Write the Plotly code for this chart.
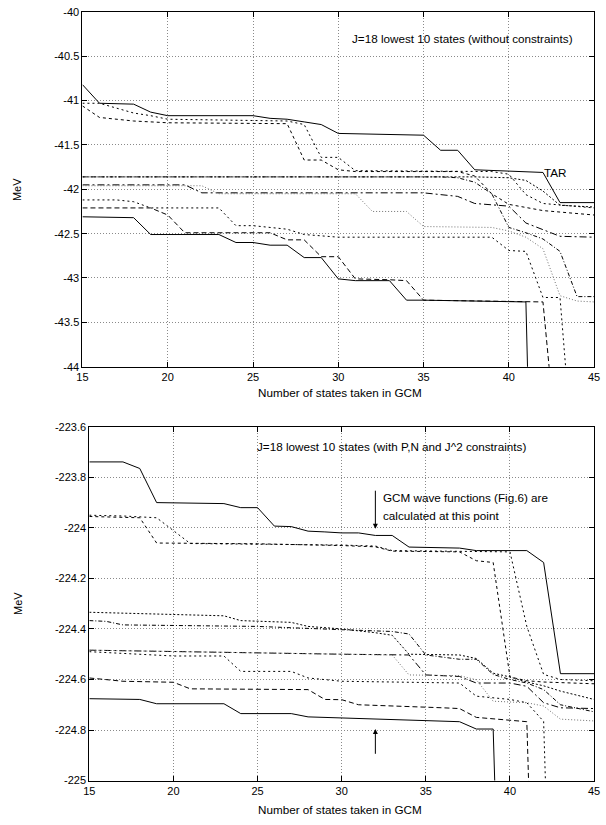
import plotly.graph_objects as go

# ---------------- data: (number of states, energy MeV) vertices ----------------
# Upper panel: J=18 lowest 10 states (without constraints)
top_state1 = [(15,-42.31),(18,-42.32),(19,-42.51),(23,-42.51),(24,-42.60),(25,-42.60),(26,-42.63),(27,-42.63),(28,-42.77),(29,-42.77),(30,-43.01),(31,-43.03),(33,-43.03),(34,-43.25),(35,-43.25),(40,-43.26),(41,-43.27),(42,-51.0)]
top_state2 = [(15,-42.21),(19,-42.21),(20,-42.29),(21,-42.49),(26,-42.49),(27,-42.57),(28,-42.57),(29,-42.76),(30,-42.76),(31,-43.01),(33,-43.02),(34,-43.03),(35,-43.25),(41,-43.26),(42,-43.27),(43,-45.3)]
top_state3 = [(15,-42.12),(17,-42.12),(18,-42.14),(19,-42.21),(23,-42.21),(24,-42.41),(25,-42.41),(27,-42.45),(28,-42.51),(30,-42.54),(39,-42.54),(40,-42.69),(41,-42.70),(42,-43.22),(43,-43.22),(44,-45.6)]
top_state4 = [(15,-41.95),(21,-41.95),(22,-42.04),(35,-42.04),(37,-42.08),(38,-42.16),(40,-42.19),(41,-42.38),(43,-42.53),(45,-42.54)]
top_state5 = [(15,-41.96),(22,-41.96),(23,-42.05),(31,-42.05),(32,-42.25),(34,-42.25),(35,-42.42),(39,-42.43),(40,-42.47),(41,-42.54),(42,-42.67),(43,-43.20),(44,-43.26),(45,-43.27)]
top_state6 = [(15,-41.86),(36,-41.86),(37,-41.87),(38,-41.92),(39,-42.05),(40,-42.43),(41,-42.49),(42,-42.56),(43,-42.70),(44,-43.21),(45,-43.21)]
top_state7 = [(15,-41.86),(38,-41.86),(40,-41.87),(41,-41.90),(42,-42.02),(43,-42.18),(45,-42.20)]
top_state8 = [(15,-41.06),(16,-41.19),(18,-41.23),(20,-41.25),(27,-41.26),(28,-41.67),(29,-41.67),(30,-41.78),(31,-41.80),(37,-41.80),(38,-41.85),(39,-42.05),(40,-42.17),(42,-42.24),(45,-42.29)]
top_state9 = [(15,-41.03),(16,-41.03),(18,-41.14),(19,-41.17),(20,-41.21),(27,-41.23),(28,-41.27),(29,-41.64),(30,-41.64),(31,-41.79),(39,-41.80),(40,-41.83),(41,-42.06),(42,-42.16),(45,-42.21)]
top_state10 = [(15,-40.82),(16,-41.03),(18,-41.04),(19,-41.13),(20,-41.17),(25,-41.17),(26,-41.20),(27,-41.21),(28,-41.24),(29,-41.27),(30,-41.37),(35,-41.39),(36,-41.56),(37,-41.56),(38,-41.78),(42,-41.81),(43,-42.15),(45,-42.15)]

# Lower panel: J=18 lowest 10 states (with P,N and J^2 constraints)
bot_state1 = [(15,-224.676),(18,-224.679),(19,-224.696),(23,-224.696),(24,-224.735),(27,-224.735),(28,-224.748),(29,-224.750),(30,-224.754),(37,-224.767),(38,-224.796),(39,-224.796),(40,-227.0)]
bot_state2 = [(15,-224.594),(17,-224.607),(20,-224.611),(21,-224.637),(28,-224.640),(29,-224.679),(30,-224.680),(31,-224.700),(36,-224.712),(37,-224.715),(38,-224.750),(40,-224.763),(41,-224.767),(42,-227.0)]
bot_state3 = [(15,-224.490),(17,-224.497),(20,-224.507),(23,-224.507),(24,-224.568),(27,-224.568),(28,-224.594),(30,-224.607),(37,-224.614),(38,-224.666),(40,-224.679),(41,-224.692),(42,-224.766),(43,-227.0)]
bot_state4 = [(15,-224.484),(20,-224.490),(30,-224.500),(34,-224.503),(35,-224.582),(37,-224.588),(38,-224.614),(40,-224.614),(41,-224.627),(42,-224.692),(43,-224.712),(45,-224.715)]
bot_state5 = [(15,-224.484),(20,-224.490),(30,-224.500),(33,-224.503),(34,-224.582),(37,-224.585),(38,-224.601),(39,-224.686),(41,-224.692),(42,-224.705),(43,-224.757),(45,-224.764)]
bot_state6 = [(15,-224.367),(16,-224.370),(17,-224.384),(20,-224.386),(25,-224.390),(30,-224.403),(33,-224.410),(34,-224.420),(35,-224.503),(37,-224.520),(38,-224.520),(39,-224.580),(40,-224.600),(41,-224.614),(42,-224.640),(43,-224.700),(45,-224.728)]
bot_state7 = [(15,-224.334),(23,-224.348),(24,-224.367),(27,-224.374),(28,-224.390),(30,-224.400),(32,-224.415),(33,-224.425),(34,-224.500),(37,-224.503),(38,-224.517),(39,-224.575),(40,-224.590),(41,-224.610),(42,-224.625),(43,-224.646),(45,-224.679)]
bot_state8 = [(15,-223.955),(18,-223.960),(19,-224.060),(25,-224.063),(30,-224.070),(32,-224.075),(33,-224.092),(37,-224.095),(38,-224.130),(39,-224.137),(40,-224.590),(41,-224.605),(42,-224.610),(45,-224.617)]
bot_state9 = [(15,-223.950),(17,-223.953),(19,-223.960),(21,-224.062),(30,-224.068),(32,-224.072),(33,-224.090),(40,-224.095),(41,-224.390),(42,-224.580),(43,-224.600),(45,-224.605)]
bot_state10 = [(15,-223.739),(17,-223.739),(18,-223.765),(19,-223.900),(23,-223.904),(24,-223.920),(25,-223.920),(26,-223.993),(27,-223.995),(28,-224.013),(29,-224.016),(30,-224.020),(31,-224.020),(32,-224.030),(33,-224.030),(34,-224.076),(37,-224.080),(38,-224.090),(41,-224.090),(42,-224.137),(43,-224.577),(45,-224.577)]

x_ticks = [15, 20, 25, 30, 35, 40, 45]
x_tick_text = ["15", "20", "25", "30", "35", "40", "45"]
top_y_ticks = [-44, -43.5, -43, -42.5, -42, -41.5, -41, -40.5, -40]
top_y_tick_text = ["-44", "-43.5", "-43", "-42.5", "-42", "-41.5", "-41", "-40.5", "-40"]
bot_y_ticks = [-225, -224.8, -224.6, -224.4, -224.2, -224, -223.8, -223.6]
bot_y_tick_text = ["-225", "-224.8", "-224.6", "-224.4", "-224.2", "-224", "-223.8", "-223.6"]

top_title = "J=18 lowest 10 states (without constraints)"
bot_title = "J=18 lowest 10 states (with P,N and J^2 constraints)"
x_title = "Number of states taken in GCM"
y_title = "MeV"

# ---------------- styles ----------------
W, H = 606, 825
FONT = "Liberation Sans, Arial, Helvetica, sans-serif"
styles = [
    dict(color="black", dash="solid"),
    dict(color="black", dash="5px,3px"),
    dict(color="black", dash="2px,3px"),
    dict(color="black", dash="7px,3px,2px,3px"),
    dict(color="#707070", dash="1px,2px"),
    dict(color="black", dash="4px,2px,1px,2px"),
    dict(color="black", dash="2px,2px"),
    dict(color="black", dash="3px,3px"),
    dict(color="black", dash="2px,3px"),
    dict(color="black", dash="solid"),
]

top_states = [top_state1, top_state2, top_state3, top_state4, top_state5,
              top_state6, top_state7, top_state8, top_state9, top_state10]
bot_states = [bot_state1, bot_state2, bot_state3, bot_state4, bot_state5,
              bot_state6, bot_state7, bot_state8, bot_state9, bot_state10]

fig = go.Figure()
for i, st in enumerate(top_states):
    fig.add_trace(go.Scatter(x=[p[0] for p in st], y=[p[1] for p in st], mode="lines",
                             line=dict(width=1, **styles[i]), xaxis="x", yaxis="y",
                             showlegend=False, hoverinfo="skip"))
for i, st in enumerate(bot_states):
    fig.add_trace(go.Scatter(x=[p[0] for p in st], y=[p[1] for p in st], mode="lines",
                             line=dict(width=1, **styles[i]), xaxis="x2", yaxis="y2",
                             showlegend=False, hoverinfo="skip"))

def px(x):
    return x / W

def py(y):
    return 1 - y / H

TICK_FS = 11
TEXT_FS = 11.7

axis_common = dict(showline=True, linecolor="black", linewidth=1, mirror="ticks",
                   ticks="inside", ticklen=5, tickcolor="black",
                   showgrid=True, gridcolor="#8a8a8a", griddash="1px,2px", gridwidth=1,
                   zeroline=False, ticklabeloverflow="allow",
                   tickfont=dict(family=FONT, size=TICK_FS, color="black"))

fig.update_layout(
    width=W, height=H, margin=dict(l=0, r=0, t=0, b=0),
    paper_bgcolor="white", plot_bgcolor="white", hovermode=False,
    font=dict(family=FONT, size=TEXT_FS, color="black"),
    xaxis=dict(domain=[px(78), px(600)], range=[15, 45], anchor="y",
               tickvals=x_ticks, ticktext=x_tick_text, **axis_common),
    yaxis=dict(domain=[py(366), py(6)], range=[-44, -40], anchor="x",
               tickvals=top_y_ticks, ticktext=top_y_tick_text, **axis_common),
    xaxis2=dict(domain=[px(85), px(600)], range=[15, 45], anchor="y2",
                tickvals=x_ticks, ticktext=x_tick_text, **axis_common),
    yaxis2=dict(domain=[py(786), py(427)], range=[-225, -223.6], anchor="x2",
                tickvals=bot_y_ticks, ticktext=bot_y_tick_text, **axis_common),
)

ann = []
fs = TEXT_FS
ann.append(dict(text=top_title, x=37.31, y=-40.30, xref="x", yref="y", showarrow=False,
                xanchor="center", yanchor="middle", font=dict(size=fs)))
ann.append(dict(text="TAR", x=41.94, y=-41.81, xref="x", yref="y", showarrow=False,
                xanchor="left", yanchor="middle", font=dict(size=fs)))
ann.append(dict(text=bot_title, x=32.93, y=-223.678, xref="x2", yref="y2", showarrow=False,
                xanchor="center", yanchor="middle", font=dict(size=fs)))
ann.append(dict(text="GCM wave functions (Fig.6) are", x=32.33, y=-223.879, xref="x2", yref="y2",
                showarrow=False, xanchor="left", yanchor="middle", font=dict(size=fs)))
ann.append(dict(text="calculated at this point", x=32.33, y=-223.951, xref="x2", yref="y2",
                showarrow=False, xanchor="left", yanchor="middle", font=dict(size=fs)))
# arrows
ann.append(dict(text="", x=32, y=-224.003, ax=32, ay=-223.847, xref="x2", yref="y2",
                axref="x2", ayref="y2", showarrow=True, arrowhead=2, arrowsize=1,
                arrowwidth=1, arrowcolor="black"))
ann.append(dict(text="", x=32, y=-224.796, ax=32, ay=-224.90, xref="x2", yref="y2",
                axref="x2", ayref="y2", showarrow=True, arrowhead=2, arrowsize=1,
                arrowwidth=1, arrowcolor="black"))
# axis titles
for yc in (186, 606):
    ann.append(dict(text=y_title, x=px(12), y=py(yc), xref="paper", yref="paper", showarrow=False,
                    textangle=-90, xanchor="center", yanchor="middle", font=dict(size=11)))
for yc in (392, 815):
    ann.append(dict(text=x_title, x=px(341), y=py(yc), xref="paper", yref="paper", showarrow=False,
                    xanchor="center", yanchor="middle", font=dict(size=fs)))
fig.update_layout(annotations=ann)

fig.write_html("out.html", config={"displayModeBar": False},
               post_script="document.body.style.margin='0px';")
